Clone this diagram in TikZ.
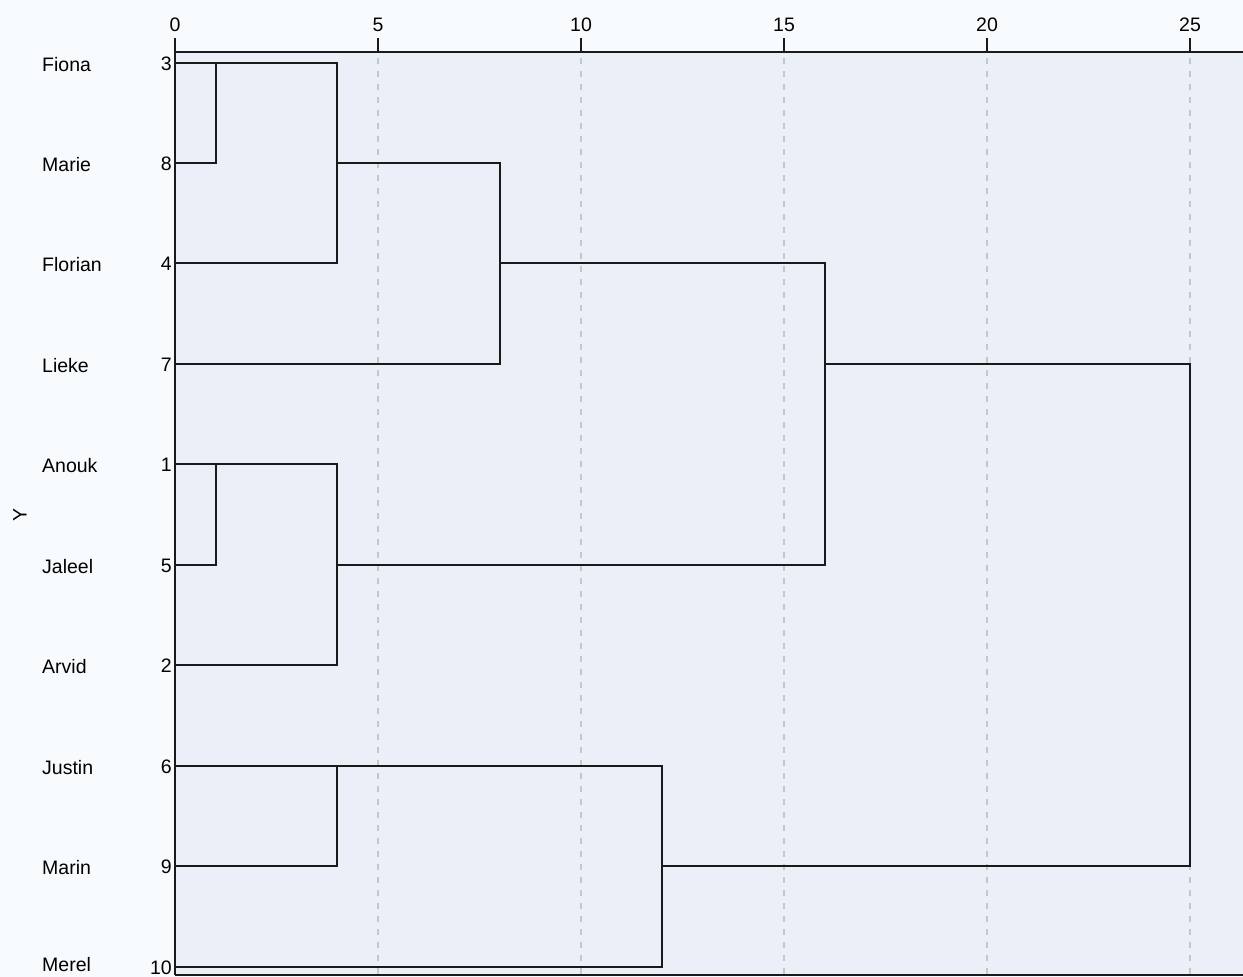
\documentclass[tikz,border=0pt]{standalone}
\usepackage{fontspec}
\setmainfont{Liberation Sans}
\definecolor{pagebg}{HTML}{F8FBFD}
\definecolor{plotbg}{HTML}{EBF0F8}
\definecolor{gridc}{HTML}{C4C8CE}
\definecolor{linkc}{HTML}{1A1A1A}
\tikzset{
  link/.style={draw=linkc, line width=2.4pt, line cap=rect, line join=miter},
  axisline/.style={draw=linkc, line width=2.4pt},
  gridline/.style={draw=gridc, line width=1.4pt, dash pattern=on 6pt off 7pt},
  leafname/.style={anchor=west, inner sep=0pt, font=\fontsize{19.5}{22}\selectfont},
  leafnum/.style={anchor=east, inner sep=0pt, font=\fontsize{19.5}{22}\selectfont},
  ticklab/.style={anchor=center, inner sep=0pt, font=\fontsize{19.5}{22}\selectfont},
}
\begin{document}
\begin{tikzpicture}[x=1pt,y=-1pt]
\useasboundingbox (0,0) rectangle (1243,977);
\fill[pagebg] (0,0) rectangle (1243,977);
\fill[plotbg] (175,52) rectangle (1243,975);
% merge distance coordinates on top axis
\coordinate (d0) at (175,52);
\coordinate (d1) at (216,52);
\coordinate (d4) at (337,52);
\coordinate (d8) at (500,52);
\coordinate (d12) at (662,52);
\coordinate (d16) at (825,52);
\coordinate (d25) at (1190,52);
% grid
\foreach \v/\px in {5/378,10/581,15/784,20/987,25/1190}{
  \draw[gridline] (\px,58) -- (\px,975);
}
% axis lines and ticks
\draw[axisline] (175,52) -- (1243,52);
\draw[axisline] (175,38) -- (175,975);
\draw[draw=linkc, line width=1.6pt] (175,975) -- (1243,975);
\foreach \v/\px in {0/175,5/378,10/581,15/784,20/987,25/1190}{
  \draw[axisline] (\px,38) -- (\px,52);
  \node[ticklab] (t\v) at (\px,25) {\v};
}
% leaves
\foreach \i/\y/\ly/\nm/\num in {1/63/64.5/Fiona/3, 2/163/164.5/Marie/8, 3/263/264.5/Florian/4, 4/364/365.5/Lieke/7, 5/464/465.5/Anouk/1, 6/565/566.5/Jaleel/5, 7/665/666.5/Arvid/2, 8/766/767.5/Justin/6, 9/866/867.5/Marin/9, 10/967/965/Merel/10}{
  \coordinate (r\i) at (175,\y);
  \node[leafname] (n\i) at (42,\ly) {\nm};
  \node[leafnum] (k\i) at (172,\y+1) {\num};
}
\node[font=\fontsize{19.5}{22}\selectfont, rotate=90, inner sep=0pt] (ylab) at (20,515) {Y};
% dendrogram links
\draw[link] (r1) -- (r1 -| d1) -- (r2 -| d1) -- (r2);
\draw[link] (r1 -| d1) -- (r1 -| d4) -- (r3 -| d4) -- (r3);
\draw[link] (r2 -| d4) -- (r2 -| d8) -- (r4 -| d8) -- (r4);
\draw[link] (r5) -- (r5 -| d1) -- (r6 -| d1) -- (r6);
\draw[link] (r5 -| d1) -- (r5 -| d4) -- (r7 -| d4) -- (r7);
\draw[link] (r3 -| d8) -- (r3 -| d16) -- (r6 -| d16) -- (r6 -| d4);
\draw[link] (r8) -- (r8 -| d4) -- (r9 -| d4) -- (r9);
\draw[link] (r8 -| d4) -- (r8 -| d12) -- (r10 -| d12) -- (r10);
\draw[link] (r4 -| d16) -- (r4 -| d25) -- (r9 -| d25) -- (r9 -| d12);
\end{tikzpicture}
\end{document}
